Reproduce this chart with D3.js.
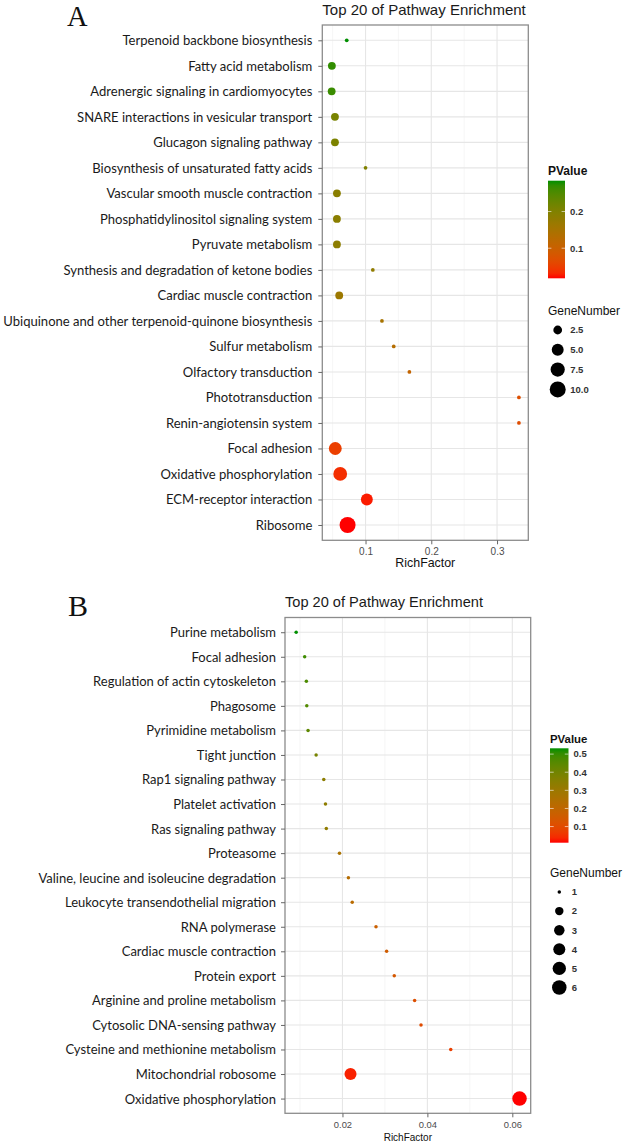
<!DOCTYPE html>
<html><head><meta charset="utf-8">
<script src="https://cdn.jsdelivr.net/npm/d3@7"></script>
<style>body{margin:0;background:#fff} svg{display:block}</style>
</head><body>
<svg id="chart" width="625" height="1144"></svg>
<script>
// ---------- Panel A data ----------
const pathwaysA = ["Terpenoid backbone biosynthesis","Fatty acid metabolism","Adrenergic signaling in cardiomyocytes","SNARE interactions in vesicular transport","Glucagon signaling pathway","Biosynthesis of unsaturated fatty acids","Vascular smooth muscle contraction","Phosphatidylinositol signaling system","Pyruvate metabolism","Synthesis and degradation of ketone bodies","Cardiac muscle contraction","Ubiquinone and other terpenoid-quinone biosynthesis","Sulfur metabolism","Olfactory transduction","Phototransduction","Renin-angiotensin system","Focal adhesion","Oxidative phosphorylation","ECM-receptor interaction","Ribosome"];
const richFactorA = [0.0714,0.0488,0.0485,0.0535,0.0535,0.1,0.0565,0.0565,0.0565,0.1111,0.06,0.125,0.1429,0.1667,0.3333,0.3333,0.054,0.0615,0.102,0.0727];
const pValueA = [0.284,0.27,0.265,0.21,0.205,0.2,0.19,0.188,0.186,0.18,0.165,0.15,0.13,0.11,0.07,0.068,0.05,0.035,0.025,0.018];
const geneNumberA = [1,2,2,2,2,1,2,2,2,1,2,1,1,1,1,1,6,7,5,10];
const xTicksA = [0.1,0.2,0.3];
const xMinorA = [0.05,0.15,0.25];
const pBreaksA = [0.1,0.2];
const sizeBreaksA = [2.5,5,7.5,10];
const sizeLabelsA = ["2.5","5.0","7.5","10.0"];

// ---------- Panel B data ----------
const pathwaysB = ["Purine metabolism","Focal adhesion","Regulation of actin cytoskeleton","Phagosome","Pyrimidine metabolism","Tight junction","Rap1 signaling pathway","Platelet activation","Ras signaling pathway","Proteasome","Valine, leucine and isoleucine degradation","Leukocyte transendothelial migration","RNA polymerase","Cardiac muscle contraction","Protein export","Arginine and proline metabolism","Cytosolic DNA-sensing pathway","Cysteine and methionine metabolism","Mitochondrial robosome","Oxidative phosphorylation"];
const richFactorB = [0.0091,0.0111,0.0115,0.0116,0.0119,0.0138,0.0156,0.016,0.0162,0.0193,0.0214,0.0223,0.0279,0.0304,0.0322,0.037,0.0385,0.0455,0.0219,0.0617];
const pValueB = [0.532,0.49,0.47,0.46,0.44,0.39,0.34,0.335,0.33,0.26,0.23,0.22,0.17,0.155,0.14,0.115,0.105,0.075,0.03,0.011];
const geneNumberB = [1,1,1,1,1,1,1,1,1,1,1,1,1,1,1,1,1,1,4,6];
const xTicksB = [0.02,0.04,0.06];
const xMinorB = [0.01,0.03,0.05];
const pBreaksB = [0.1,0.2,0.3,0.4,0.5];
const sizeBreaksB = [1,2,3,4,5,6];
const sizeLabelsB = ["1","2","3","4","5","6"];

const svg = d3.select("#chart");
const LOW = "#ff0000", HIGH = "#008f00";

function panel(cfg) {
  const data = cfg.cats.map((c,i)=>({c, x:cfg.rf[i], p:cfg.pv[i], g:cfg.gn[i]}));
  const ext = d3.extent(cfg.rf), pad = (ext[1]-ext[0])*0.05;
  const x = d3.scaleLinear().domain([ext[0]-pad, ext[1]+pad]).range([cfg.x0, cfg.x1]);
  const y = d3.scalePoint().domain(cfg.cats).range([cfg.y0, cfg.y1]).padding(0.6);
  const pext = d3.extent(cfg.pv);
  const col = d3.scaleLinear().domain(pext).range([LOW, HIGH]).interpolate(d3.interpolateLab);
  const gext = d3.extent(cfg.gn);
  const sz = d3.scaleSqrt().domain([0, gext[1]-gext[0]]).range([1,6]);
  const rad = v => (cfg.k*sz(Math.max(0, v-gext[0])) + 1.3)/2;

  const g = svg.append("g");
  // letter
  g.append("text").attr("x", cfg.letterX).attr("y", cfg.letterY)
    .attr("font-family","Liberation Serif").attr("font-size",cfg.letterSize).attr("fill","#111").text(cfg.letter);
  // title
  g.append("text").attr("x", cfg.x0).attr("y", cfg.titleY)
    .attr("font-family","Liberation Sans").attr("font-size",cfg.titleSize).attr("fill","#1a1a1a")
    .text("Top 20 of Pathway Enrichment");
  // grid
  g.selectAll(".minor").data(cfg.minor).join("line")
    .attr("x1",d=>x(d)).attr("x2",d=>x(d)).attr("y1",cfg.y0).attr("y2",cfg.y1)
    .attr("stroke","#f0f0f0").attr("stroke-width",0.6);
  g.selectAll(".vmaj").data(cfg.ticks).join("line")
    .attr("x1",d=>x(d)).attr("x2",d=>x(d)).attr("y1",cfg.y0).attr("y2",cfg.y1)
    .attr("stroke","#e6e6e6").attr("stroke-width",1.1);
  g.selectAll(".hmaj").data(cfg.cats).join("line")
    .attr("x1",cfg.x0).attr("x2",cfg.x1).attr("y1",d=>y(d)).attr("y2",d=>y(d))
    .attr("stroke","#e6e6e6").attr("stroke-width",1.1);
  // border
  g.append("rect").attr("x",cfg.x0).attr("y",cfg.y0).attr("width",cfg.x1-cfg.x0).attr("height",cfg.y1-cfg.y0)
    .attr("fill","none").attr("stroke","#8c8c8c").attr("stroke-width",1.3);
  // y axis
  const ya = g.append("g").attr("transform",`translate(${cfg.x0},0)`)
    .call(d3.axisLeft(y).tickSize(4).tickPadding(cfg.labPad));
  ya.select(".domain").remove();
  ya.selectAll(".tick line").attr("stroke","#666");
  const labs = ya.selectAll(".tick text").attr("font-family","Lato").attr("fill","#1a1a1a").attr("font-size",15);
  const refNode = labs.filter(d=>d===cfg.fitLabel).node();
  const fs = 15*cfg.fitWidth/refNode.getComputedTextLength();
  labs.attr("font-size",fs).attr("dy","0.34em");
  // x axis
  const xa = g.append("g").attr("transform",`translate(0,${cfg.y1})`)
    .call(d3.axisBottom(x).tickValues(cfg.ticks).tickSize(4).tickPadding(4).tickFormat(d3.format("")));
  xa.select(".domain").remove();
  xa.selectAll(".tick line").attr("stroke","#666");
  xa.selectAll(".tick text").attr("font-family","Liberation Sans").attr("font-size",cfg.tickSize).attr("fill","#4d4d4d");
  g.append("text").attr("x",(cfg.x0+cfg.x1)/2).attr("y",cfg.xlabY).attr("text-anchor","middle")
    .attr("font-family","Liberation Sans").attr("font-size",cfg.xlabSize).attr("fill","#111").text("RichFactor");
  // points
  g.selectAll(".pt").data(data).join("circle")
    .attr("cx",d=>x(d.x)).attr("cy",d=>y(d.c)).attr("r",d=>rad(d.g)).attr("fill",d=>col(d.p));

  // colour legend
  const L = cfg.leg;
  g.append("text").attr("x",L.x).attr("y",L.pTitleY).attr("font-family","Liberation Sans").attr("font-weight","bold")
    .attr("font-size",L.pTitleSize).attr("fill","#111").text("PValue");
  const gid = "grad"+cfg.letter;
  const grad = svg.append("defs").append("linearGradient").attr("id",gid).attr("x1",0).attr("x2",0).attr("y1",1).attr("y2",0);
  d3.range(0,1.0001,0.05).forEach(t=>grad.append("stop").attr("offset",t).attr("stop-color",col(pext[0]+t*(pext[1]-pext[0]))));
  g.append("rect").attr("x",L.x).attr("y",L.barTop).attr("width",L.barW).attr("height",L.barBot-L.barTop).attr("fill",`url(#${gid})`);
  const py = d3.scaleLinear().domain(pext).range([L.barBot, L.barTop]);
  cfg.pBreaks.forEach(b=>{
    const yy = py(b);
    g.append("line").attr("x1",L.x).attr("x2",L.x+L.barW*0.2).attr("y1",yy).attr("y2",yy).attr("stroke","#fff").attr("stroke-opacity",0.6);
    g.append("line").attr("x1",L.x+L.barW*0.8).attr("x2",L.x+L.barW).attr("y1",yy).attr("y2",yy).attr("stroke","#fff").attr("stroke-opacity",0.6);
    g.append("text").attr("x",L.x+L.barW+5).attr("y",yy).attr("dy","0.35em").attr("font-family","Liberation Sans")
      .attr("font-weight","bold").attr("font-size",9.5).attr("fill","#333").text(b);
  });
  // size legend
  g.append("text").attr("x",L.x).attr("y",L.gTitleY).attr("font-family","Liberation Sans")
    .attr("font-size",12).attr("fill","#111").text("GeneNumber");
  cfg.sizeBreaks.forEach((b,i)=>{
    const yy = L.gFirstY + i*L.gStep;
    g.append("circle").attr("cx",L.cx).attr("cy",yy).attr("r",rad(b)).attr("fill","#000");
    g.append("text").attr("x",L.cx+12.5).attr("y",yy).attr("dy","0.35em").attr("font-family","Liberation Sans")
      .attr("font-weight","bold").attr("font-size",9.5).attr("fill","#333").text(cfg.sizeLabels[i]);
  });
}

panel({letter:"A", letterX:67, letterY:25.5, letterSize:28.5, titleY:15, titleSize:15,
  cats:pathwaysA, rf:richFactorA, pv:pValueA, gn:geneNumberA,
  x0:322.3, x1:528.3, y0:25, y1:540.3, k:2.45,
  ticks:xTicksA, minor:xMinorA, tickSize:10, xlabY:566.7, xlabSize:12.4,
  labPad:6, fitLabel:"Terpenoid backbone biosynthesis", fitWidth:190,
  pBreaks:pBreaksA, sizeBreaks:sizeBreaksA, sizeLabels:sizeLabelsA,
  leg:{x:548, pTitleY:175, pTitleSize:12, barTop:180.7, barBot:278.3, barW:17,
       gTitleY:315, gFirstY:330, gStep:19.8, cx:557.7}});

panel({letter:"B", letterX:68, letterY:615.7, letterSize:30, titleY:607.3, titleSize:14.6,
  cats:pathwaysB, rf:richFactorB, pv:pValueB, gn:geneNumberB,
  x0:285, x1:530.7, y0:617.5, y1:1113.3, k:2.2,
  ticks:xTicksB, minor:xMinorB, tickSize:9.4, xlabY:1140.7, xlabSize:10,
  labPad:5, fitLabel:"Regulation of actin cytoskeleton", fitWidth:183,
  pBreaks:pBreaksB, sizeBreaks:sizeBreaksB, sizeLabels:sizeLabelsB,
  leg:{x:550, pTitleY:743.3, pTitleSize:11.4, barTop:748.3, barBot:842.7, barW:18.5,
       gTitleY:876.7, gFirstY:892, gStep:19.1, cx:559.3}});
</script>
</body></html>
